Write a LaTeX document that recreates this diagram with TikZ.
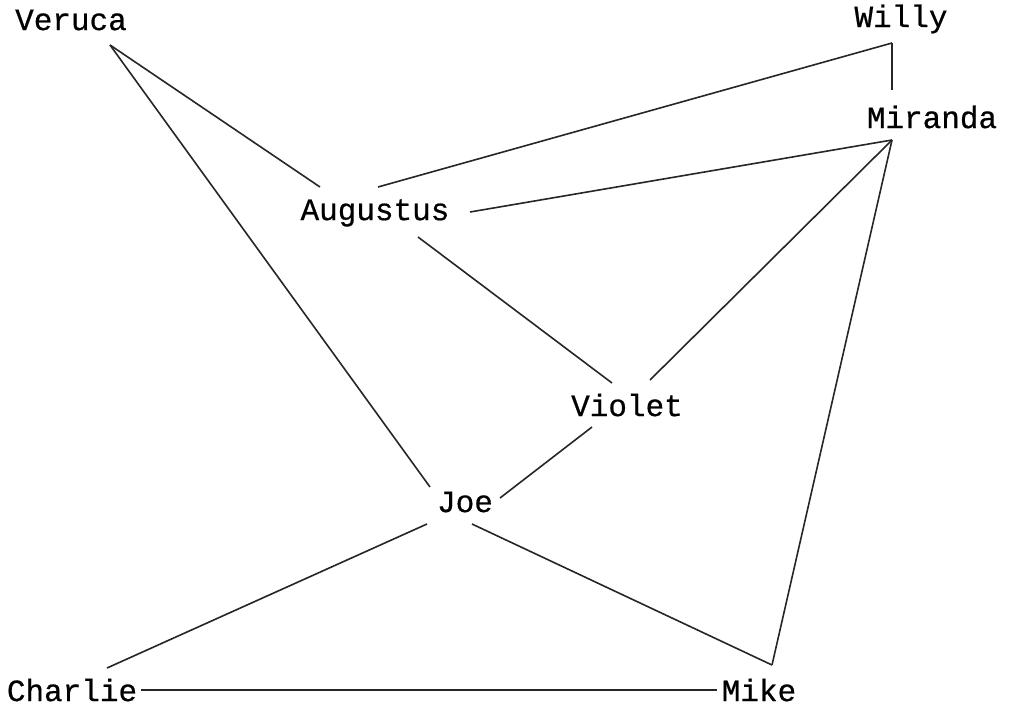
\documentclass[tikz,border=0pt]{standalone}
\usepackage{fontspec}
\newfontfamily\namefont[FakeBold=0.6]{Liberation Mono}
\begin{document}
\begin{tikzpicture}[x=1pt,y=-1pt,
  person/.style={font=\namefont\fontsize{31}{31}\selectfont, inner sep=0pt, anchor=center},
  link/.style={draw=black!85, line width=1.6pt}]
\useasboundingbox (0,0) rectangle (1012,705);
\node[person] (veruca)   at (71,20)   {Veruca};
\node[person] (willy)    at (901,19)  {Willy};
\node[person] (miranda)  at (932,117) {Miranda};
\node[person] (augustus) at (375,213) {Augustus};
\node[person] (violet)   at (627,405) {Violet};
\node[person] (joe)      at (465,502) {Joe};
\node[person] (charlie)  at (72,690)  {Charlie};
\node[person] (mike)     at (759,690) {Mike};
% connectors
\draw[link] ([shift={(39,25)}]veruca.center) -- ([shift={(-55,-26)}]augustus.center);
\draw[link] ([shift={(39,25)}]veruca.center) -- ([shift={(-35,-15)}]joe.center);
\draw[link] ([shift={(-9,24)}]willy.center) -- ([shift={(3,-26)}]augustus.center);
\draw[link] ([shift={(-9,24)}]willy.center) -- ([shift={(-40,-27)}]miranda.center);
\draw[link] ([shift={(-40,23)}]miranda.center) -- ([shift={(95,-1)}]augustus.center);
\draw[link] ([shift={(-40,23)}]miranda.center) -- ([shift={(23,-25)}]violet.center);
\draw[link] ([shift={(-40,23)}]miranda.center) -- ([shift={(13,-25)}]mike.center);
\draw[link] ([shift={(43,24)}]augustus.center) -- ([shift={(-15,-22)}]violet.center);
\draw[link] ([shift={(-35,22)}]violet.center) -- ([shift={(35,-4)}]joe.center);
\draw[link] ([shift={(-38,22)}]joe.center) -- ([shift={(35,-22)}]charlie.center);
\draw[link] ([shift={(7,22)}]joe.center) -- ([shift={(13,-25)}]mike.center);
\draw[link] ([shift={(69,0)}]charlie.center) -- ([shift={(-42,0)}]mike.center);
\end{tikzpicture}
\end{document}
